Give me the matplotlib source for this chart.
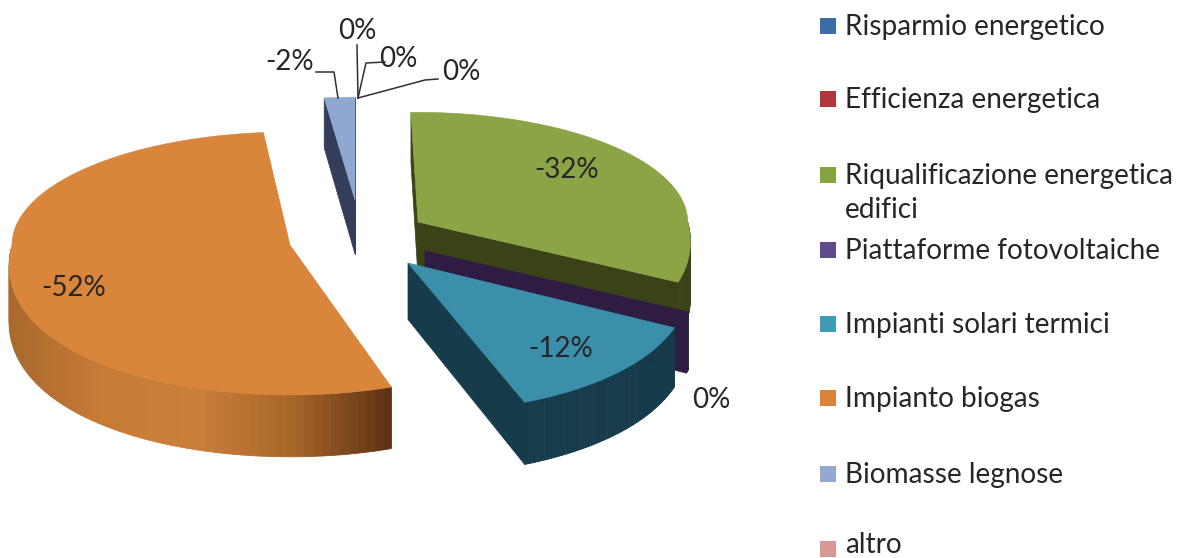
import numpy as np
import matplotlib
matplotlib.use("Agg")
import matplotlib.pyplot as plt
from matplotlib.patches import Polygon, Rectangle
from matplotlib.colors import LinearSegmentedColormap

# ---- data ----
categories = ["Risparmio energetico", "Efficienza energetica",
              "Riqualificazione energetica\nedifici", "Piattaforme fotovoltaiche",
              "Impianti solari termici", "Impianto biogas",
              "Biomasse legnose", "altro"]
values = [0.0, 0.0, -31.5, -0.3, -11.6, -52.49, -1.9, 0.0]
legend_colors = ["#3a6ea5", "#b0383c", "#84a43f", "#5f4a8b",
                 "#3f9ab5", "#d9843a", "#93a9cf", "#d99694"]
top_colors = ["#3a6ea5", "#b0383c", "#8ba445", "#2e1c43",
              "#3b8fab", "#d9853b", "#8fa8d2", "#d99694"]
wall_colors = ["#23426a", "#6a2224", "#3a4318", "#2e1c43",
               "#163b4b", "#8a5222", "#343d5a", "#825a58"]

# ---- layout (pixels of the 1181x558 figure) ----
RX, RX_FRONT, RY_BACK, RY_FRONT = 278.0, 40.0, 113.0, 150.0
apex = [(355, 255), (355, 255), (418, 222), (425, 251),
        (408, 263), (290, 245), (355, 200), (355, 255)]
radius_scale = [1, 1, 0.97, 0.98, 1, 1, 0.91, 1]
slice_rotation = [0, 0, -1.5, -1.5, -1.5, 1.5, 0, 0]
label_font = ["Lato", "DejaVu Sans"]
text_color = "#262626"

fig = plt.figure(figsize=(11.81, 5.58), dpi=100)
ax = fig.add_axes([0, 0, 1, 1])
ax.set_xlim(0, 1181)
ax.set_ylim(558, 0)
ax.axis("off")


def rim(center, scale, deg):
    a = np.radians(deg)
    s, c = np.sin(a), np.cos(a)
    rx = RX + RX_FRONT * np.maximum(0, -c)
    ry = np.where(c > 0, RY_BACK, RY_FRONT)
    return center[0] + scale * s * rx, center[1] - scale * c * ry


def depth(y):
    return 50 + (y - 100) * 0.04


orange_wall = LinearSegmentedColormap.from_list(
    "w", ["#a8672c", "#c77c36", "#c97f39", "#a9662a", "#5e3414"])

total = sum(abs(v) for v in values)
start = 0.0
for i, v in enumerate(values):
    span = abs(v) / total * 360
    if span == 0:
        continue
    a0, a1 = start + slice_rotation[i], start + span + slice_rotation[i]
    start += span
    c, sc = apex[i], radius_scale[i]
    arc = np.linspace(a0, a1, 120)
    xs, ys = rim(c, sc, arc)
    # radial side faces that look towards the viewer
    if np.sin(np.radians(a1)) > 0:
        ex, ey = rim(c, sc, a1)
        ax.add_patch(Polygon([c, (ex, ey), (ex, ey + depth(ey)), (c[0], c[1] + depth(c[1]))],
                             fc=wall_colors[i], ec=wall_colors[i], lw=0.5))
    if np.sin(np.radians(a0)) < 0:
        ex, ey = rim(c, sc, a0)
        ax.add_patch(Polygon([c, (ex, ey), (ex, ey + depth(ey)), (c[0], c[1] + depth(c[1]))],
                             fc=wall_colors[i], ec=wall_colors[i], lw=0.5))
    # outer wall, front half only
    vis = (arc >= 90) & (arc <= 270)
    if vis.sum() > 1:
        wx, wy = xs[vis], ys[vis]
        for k in range(len(wx) - 1):
            if categories[i] == "Impianto biogas":
                col = orange_wall((wx[k] - wx.min()) / (wx.max() - wx.min()))
            else:
                col = wall_colors[i]
            ax.add_patch(Polygon([(wx[k], wy[k]), (wx[k + 1], wy[k + 1]),
                                  (wx[k + 1], wy[k + 1] + depth(wy[k + 1])),
                                  (wx[k], wy[k] + depth(wy[k]))],
                                 fc=col, ec=col, lw=0.6))
    # top face
    ax.add_patch(Polygon(np.vstack([[c], np.column_stack([xs, ys])]),
                         fc=top_colors[i], ec=top_colors[i], lw=0.4))

# data labels: text centres and leader lines per category
label_pos = [(357, 31), (398, 59), (567, 170), (711, 400),
             (561, 349), (74, 288), (290, 62), (461, 72)]
leaders = {0: [(357, 45), (358, 98)],
           1: [(385, 62), (366, 63), (358, 98)],
           6: [(316, 72), (334, 72), (338, 98)],
           7: [(438, 79), (425, 80), (358, 98)]}
for i, v in enumerate(values):
    r = round(v)
    txt = f"{r:d}%" if r != 0 else "0%"
    ax.text(*label_pos[i], txt, ha="center", va="center", fontsize=20,
            family=label_font, color=text_color)
    if i in leaders:
        ax.plot(*zip(*leaders[i]), color="#303030", lw=1.1)

# legend
marker_y = [26, 99, 175, 250, 324, 398, 474, 549]
text_y = [27, 100, 193, 251, 325, 399, 475, 545]
for name, col, y, ty in zip(categories, legend_colors, marker_y, text_y):
    ax.add_patch(Rectangle((820, y - 8), 16, 16, fc=col, ec="none"))
    ax.text(845, ty, name, ha="left", va="center",
            fontsize=20.2, family=label_font, color=text_color, linespacing=1.4)

fig.savefig("out.png", dpi=100)
